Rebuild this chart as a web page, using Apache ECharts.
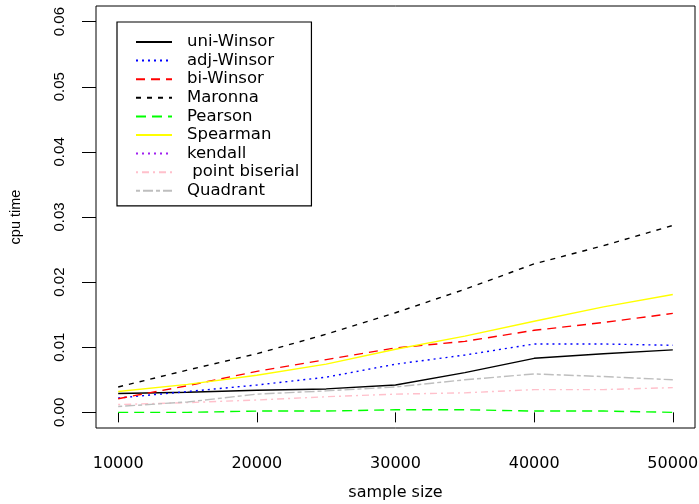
<!DOCTYPE html>
<html>
<head>
<meta charset="utf-8">
<script src="https://cdn.jsdelivr.net/npm/echarts@6/dist/echarts.min.js"></script>
<style>
  html, body { margin: 0; padding: 0; background: #fff; }
  #main { width: 699px; height: 504px; }
</style>
</head>
<body>
<div id="main"></div>
<script>
// sample sizes on the x axis
var sizes = [10000, 15000, 20000, 25000, 30000, 35000, 40000, 45000, 50000];
var xTicks = [10000, 20000, 30000, 40000, 50000];
var yTicks = [0, 0.01, 0.02, 0.03, 0.04, 0.05, 0.06];

// cpu time per method
var uniWinsor = [0.0029, 0.0031, 0.0034, 0.0036, 0.0042, 0.0061, 0.0083, 0.0090, 0.0096];
var adjWinsor = [0.0022, 0.0032, 0.0042, 0.0054, 0.0074, 0.0088, 0.0105, 0.0105, 0.0103];
var biWinsor = [0.0021, 0.0041, 0.0063, 0.0081, 0.0099, 0.0109, 0.0126, 0.0138, 0.0152];
var maronna = [0.0039, 0.0065, 0.0090, 0.0120, 0.0153, 0.0189, 0.0228, 0.0256, 0.0287];
var pearson = [0.0000, 0.0000, 0.0002, 0.0002, 0.0004, 0.0004, 0.0002, 0.0002, 0.0000];
var spearman = [0.0032, 0.0043, 0.0057, 0.0074, 0.0097, 0.0117, 0.0140, 0.0162, 0.0181];
var kendall = []; // off the plotted range, only in the legend
var pointBiserial = [0.0012, 0.0015, 0.0019, 0.0024, 0.0028, 0.0030, 0.0035, 0.0035, 0.0038];
var quadrant = [0.0009, 0.0016, 0.0028, 0.0033, 0.0039, 0.0050, 0.0059, 0.0055, 0.0050];

function pairs(vals) {
  return vals.map(function (v, i) { return [sizes[i], v]; });
}

function line(name, vals, color, dash) {
  return {
    name: name,
    type: 'line',
    data: pairs(vals),
    symbol: 'none',
    animation: false,
    itemStyle: { color: color },
    lineStyle: { color: color, width: 1.4, type: dash }
  };
}

var myChart = echarts.init(document.getElementById('main'));
myChart.setOption({
  backgroundColor: '#fff',
  grid: {
    left: 96, right: 4, top: 6, bottom: 76,
    show: true, borderColor: '#000', borderWidth: 1,
    outerBoundsMode: 'none'
  },
  legend: {
    orient: 'vertical',
    left: 117, top: 22,
    padding: [11.5, 12, 6.5, 18],
    itemWidth: 36, itemHeight: 14, itemGap: 1.6,
    borderColor: '#000', borderWidth: 1.2,
    itemStyle: { opacity: 0 },
    textStyle: { fontFamily: 'DejaVu Sans', fontSize: 16.5, color: '#000', padding: [0, 0, 0, 10] }
  },
  xAxis: {
    type: 'value',
    min: 8400, max: 51600,
    name: 'sample size',
    nameLocation: 'middle',
    nameGap: 57,
    nameTextStyle: { fontFamily: 'DejaVu Sans', fontSize: 16, color: '#000' },
    axisLine: { show: false },
    splitLine: { show: false },
    axisTick: { show: true, length: 10, lineStyle: { color: '#000' }, customValues: xTicks },
    axisLabel: { color: '#000', fontFamily: 'DejaVu Sans', fontSize: 16, margin: 28, customValues: xTicks,
      formatter: function (v) { return String(v); } }
  },
  yAxis: {
    type: 'value',
    min: -0.0024, max: 0.0624,
    name: 'cpu time',
    nameLocation: 'middle',
    nameRotate: 90,
    nameGap: 73,
    nameTextStyle: { fontFamily: 'Liberation Sans', fontSize: 14.5, color: '#000' },
    axisLine: { show: false },
    splitLine: { show: false },
    axisTick: { show: true, length: 14, lineStyle: { color: '#000' }, customValues: yTicks },
    axisLabel: { color: '#000', fontFamily: 'Liberation Sans', fontSize: 15, rotate: 90, margin: 29,
      customValues: yTicks, formatter: function (v) { return v.toFixed(2); } }
  },
  series: [
    line('uni-Winsor', uniWinsor, '#000000', 'solid'),
    line('adj-Winsor', adjWinsor, '#0000ff', [2, 4]),
    line('bi-Winsor', biWinsor, '#ff0000', [9, 6]),
    line('Maronna', maronna, '#000000', [5, 6]),
    line('Pearson', pearson, '#00ff00', [10, 6]),
    line('Spearman', spearman, '#ffff00', 'solid'),
    line('kendall', kendall, '#a020f0', [2, 4]),
    line(' point biserial', pointBiserial, '#ffc0cb', [2, 4, 7, 4]),
    line('Quadrant', quadrant, '#bebebe', [4, 3, 10, 3])
  ]
});
</script>
</body>
</html>
